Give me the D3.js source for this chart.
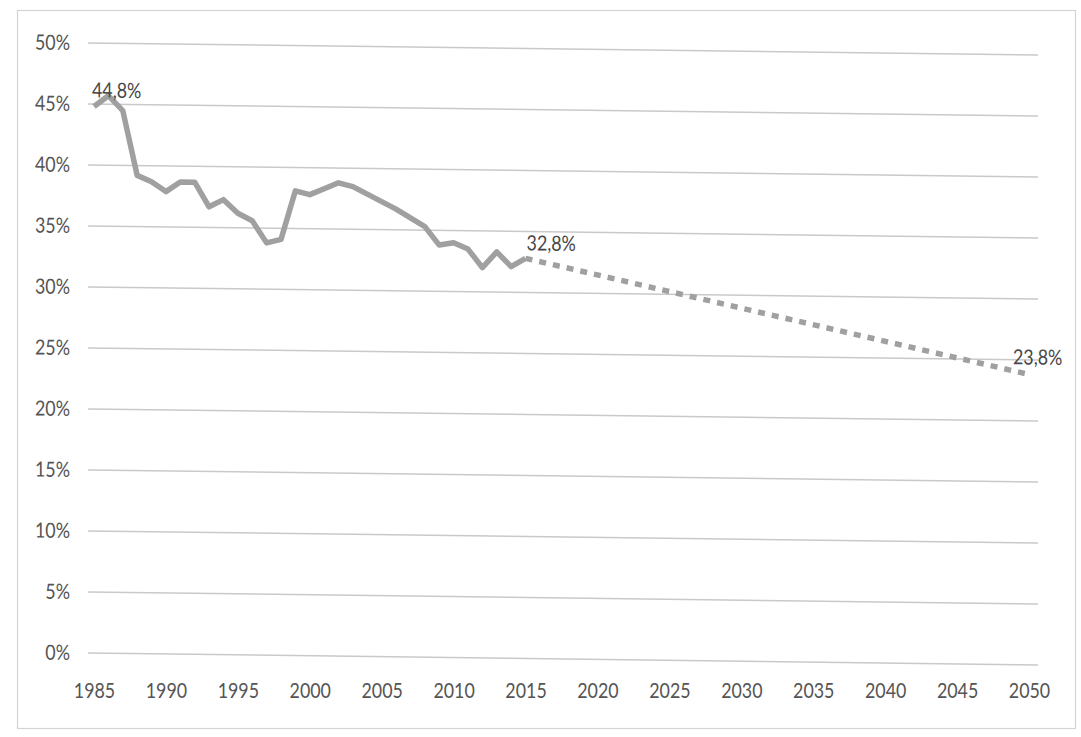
<!DOCTYPE html>
<html>
<head>
<meta charset="utf-8">
<script src="https://cdn.jsdelivr.net/npm/d3@7"></script>
<style>
  html, body { margin: 0; padding: 0; background: #ffffff; }
  svg { display: block; }
  text { font-family: Lato, "Open Sans", sans-serif; }
</style>
</head>
<body>
<svg id="chart" width="1081" height="737"></svg>
<script>
// Observed share by year
const histYears = [1985, 1986, 1987, 1988, 1989, 1990, 1991, 1992, 1993, 1994,
                   1995, 1996, 1997, 1998, 1999, 2000, 2001, 2002, 2003, 2004,
                   2005, 2006, 2007, 2008, 2009, 2010, 2011, 2012, 2013, 2014, 2015];
const histValues = [44.8, 45.7, 44.5, 39.2, 38.7, 37.9, 38.7, 38.7, 36.7, 37.3,
                    36.2, 35.6, 33.8, 34.1, 38.1, 37.8, 38.3, 38.8, 38.5, 37.9,
                    37.3, 36.7, 36.0, 35.3, 33.8, 34.0, 33.5, 32.0, 33.3, 32.1, 32.8];
// Projection from the last observed year
const projYears = [2015, 2050];
const projValues = [32.8, 23.8];
// Axis ticks
const xTicks = [1985, 1990, 1995, 2000, 2005, 2010, 2015, 2020, 2025, 2030, 2035, 2040, 2045, 2050];
const yTicks = [0, 5, 10, 15, 20, 25, 30, 35, 40, 45, 50];
// Years carrying a data label
const labelYears = [1985, 2015, 2050];

const svg = d3.select("#chart");
const FONT = 21;
const NARROW = "scale(0.85,1)";   // condensed lettering

const gridLeft = 88, gridRight = 1038;
const x = d3.scaleLinear().domain([1985, 2050]).range([94, 1029]);
const y = d3.scaleLinear().domain([0, 50]).range([653, 43]);

const loc = d3.formatLocale({ decimal: ",", thousands: ".", grouping: [3], currency: ["", ""] });
const pct = v => loc.format(".1f")(v) + "%";

// chart frame
svg.append("rect")
  .attr("x", 17.5).attr("y", 10.5)
  .attr("width", 1058).attr("height", 718)
  .attr("fill", "#ffffff")
  .attr("stroke", "#d4d4d4").attr("stroke-width", 1.2);

// plot area, with a slight downward slant toward the right
const plot = svg.append("g")
  .attr("transform", `translate(${gridLeft},0) skewY(0.72) translate(${-gridLeft},0)`);

// horizontal gridlines
plot.append("g").selectAll("line")
  .data(yTicks)
  .join("line")
  .attr("x1", gridLeft).attr("x2", gridRight)
  .attr("y1", d => y(d)).attr("y2", d => y(d))
  .attr("stroke", "#c9c9c9").attr("stroke-width", 1.5);

// y axis labels
const yAxis = d3.axisLeft(y)
  .tickValues(yTicks)
  .tickSize(0)
  .tickPadding(0)
  .tickFormat(d => d + "%");
plot.append("g")
  .attr("transform", "translate(70,0)")
  .call(yAxis)
  .call(g => g.select(".domain").remove())
  .call(g => g.selectAll("text")
    .attr("transform", NARROW)
    .attr("fill", "#555555")
    .attr("font-size", FONT)
    .attr("font-family", null));

// observed line
const line = d3.line().x(d => x(d[0])).y(d => y(d[1]));
plot.append("path")
  .datum(d3.zip(histYears, histValues))
  .attr("d", line)
  .attr("fill", "none")
  .attr("stroke", "#a0a0a0")
  .attr("stroke-width", 5.5)
  .attr("stroke-linejoin", "round");

// projection line
plot.append("path")
  .datum(d3.zip(projYears, projValues))
  .attr("d", line)
  .attr("fill", "none")
  .attr("stroke", "#a0a0a0")
  .attr("stroke-width", 5.5)
  .attr("stroke-dasharray", "7,7");

// data labels
const allYears = histYears.concat(projYears.slice(1));
const allValues = histValues.concat(projValues.slice(1));
const labelOffsets = { 1985: [-2, -9], 2015: [1, -8], 2050: [-16, -10] };
plot.append("g").selectAll("g")
  .data(labelYears)
  .join("g")
  .attr("transform", d =>
    `translate(${x(d) + labelOffsets[d][0]},${y(allValues[allYears.indexOf(d)]) + labelOffsets[d][1]})`)
  .append("text")
  .attr("transform", NARROW)
  .attr("fill", "#474747")
  .attr("font-size", FONT)
  .text(d => pct(allValues[allYears.indexOf(d)]));

// x axis labels
const xAxis = d3.axisBottom(x)
  .tickValues(xTicks)
  .tickSize(0)
  .tickPadding(0)
  .tickFormat(d3.format("d"));
svg.append("g")
  .attr("transform", "translate(0,698)")
  .call(xAxis)
  .call(g => g.select(".domain").remove())
  .call(g => g.selectAll("text")
    .attr("dy", 0)
    .attr("transform", NARROW)
    .attr("fill", "#555555")
    .attr("font-size", FONT)
    .attr("font-family", null));
</script>
</body>
</html>
